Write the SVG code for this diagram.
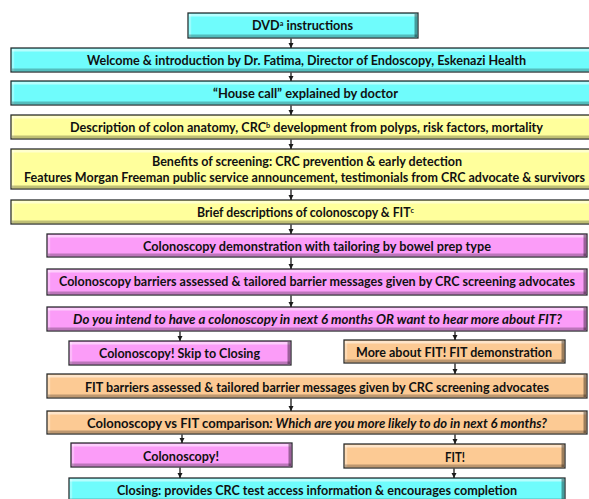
<svg xmlns="http://www.w3.org/2000/svg" width="589" height="499" viewBox="0 0 589 499">
<defs>
<style>
.box{stroke:#2b2f30;stroke-width:1.3}
.cy{fill:#6ffcfc}
.ye{fill:#ffff9c}
.pk{fill:#fb9cf8}
.or{fill:#fcca94}
.bt{stroke:#ffffff;stroke-opacity:.5;stroke-width:2.4;fill:none}
.bl{stroke:#ffffff;stroke-opacity:.3;stroke-width:2.4;fill:none}
.bb{stroke:#000000;stroke-opacity:.25;stroke-width:2.6;fill:none}
.br{stroke:#000000;stroke-opacity:.38;stroke-width:2.6;fill:none}
text{font-family:Lato,"Open Sans","Liberation Sans",sans-serif;font-weight:bold;font-size:13px;fill:#111;text-anchor:middle}
.it{font-style:italic}
.sup{font-size:7.5px}
.conn{stroke:#1a1a1a;stroke-width:1.3;fill:none;marker-end:url(#ah)}
</style>
<marker id="ah" markerUnits="userSpaceOnUse" markerWidth="6" markerHeight="6" refX="5" refY="3" orient="auto">
<path d="M0,0.5 L5,3 L0,5.5 z" fill="#1a1a1a"/>
</marker>
</defs>
<rect width="589" height="499" fill="#ffffff"/>

<g id="n1">
<rect class="box cy" x="188" y="13" width="230" height="25"/>
<path class="bt" d="M189 15.2H417"/><path class="bl" d="M190 14V37"/><path class="bb" d="M189 35.8H417"/><path class="br" d="M415.8 14V37"/>
<text x="302.5" y="30" textLength="101" lengthAdjust="spacingAndGlyphs">DVD<tspan class="sup" dy="-4">a</tspan><tspan dy="4"> instructions</tspan></text>
</g>
<g id="n2">
<rect class="box cy" x="11" y="48" width="590" height="24"/>
<path class="bt" d="M12 50.2H600"/><path class="bl" d="M13 49V71"/><path class="bb" d="M12 69.8H600"/>
<text x="306.5" y="64.5" textLength="439" lengthAdjust="spacingAndGlyphs">Welcome &amp; introduction by Dr. Fatima, Director of Endoscopy, Eskenazi Health</text>
</g>
<g id="n3">
<rect class="box cy" x="11" y="81" width="590" height="24"/>
<path class="bt" d="M12 83.2H600"/><path class="bl" d="M13 82V104"/><path class="bb" d="M12 102.8H600"/>
<text x="305.5" y="97.5" textLength="185" lengthAdjust="spacingAndGlyphs">“House call” explained by doctor</text>
</g>
<g id="n4">
<rect class="box ye" x="11" y="115" width="590" height="24"/>
<path class="bt" d="M12 117.2H600"/><path class="bl" d="M13 116V138"/><path class="bb" d="M12 136.8H600"/>
<text x="306.5" y="131.5" textLength="473" lengthAdjust="spacingAndGlyphs">Description of colon anatomy, CRC<tspan class="sup" dy="-4">b</tspan><tspan dy="4"> development from polyps, risk factors, mortality</tspan></text>
</g>
<g id="n5">
<rect class="box ye" x="11" y="149" width="590" height="40"/>
<path class="bt" d="M12 151.2H600"/><path class="bl" d="M13 150V188"/><path class="bb" d="M12 186.8H600"/>
<text x="307" y="165.5" textLength="310" lengthAdjust="spacingAndGlyphs">Benefits of screening: CRC prevention &amp; early detection</text>
<text x="304.5" y="181.5" textLength="561" lengthAdjust="spacingAndGlyphs">Features Morgan Freeman public service announcement, testimonials from CRC advocate &amp; survivors</text>
</g>
<g id="n6">
<rect class="box ye" x="11" y="200" width="590" height="24"/>
<path class="bt" d="M12 202.2H600"/><path class="bl" d="M13 201V223"/><path class="bb" d="M12 221.8H600"/>
<text x="305.5" y="216.5" textLength="217" lengthAdjust="spacingAndGlyphs">Brief descriptions of colonoscopy &amp; FIT<tspan class="sup" dy="-4">c</tspan></text>
</g>
<g id="n7">
<rect class="box pk" x="47" y="234" width="540" height="23"/>
<path class="bt" d="M48 236.2H586"/><path class="bl" d="M49 235V256"/><path class="bb" d="M48 254.8H586"/><path class="br" d="M584.8 235V256"/>
<text x="317" y="250.5" textLength="348" lengthAdjust="spacingAndGlyphs">Colonoscopy demonstration with tailoring by bowel prep type</text>
</g>
<g id="n8">
<rect class="box pk" x="47" y="269" width="540" height="26"/>
<path class="bt" d="M48 271.2H586"/><path class="bl" d="M49 270V294"/><path class="bb" d="M48 292.8H586"/><path class="br" d="M584.8 270V294"/>
<text x="317" y="286" textLength="516" lengthAdjust="spacingAndGlyphs">Colonoscopy barriers assessed &amp; tailored barrier messages given by CRC screening advocates</text>
</g>
<g id="n9">
<rect class="box pk" x="47" y="307" width="540" height="24"/>
<path class="bt" d="M48 309.2H586"/><path class="bl" d="M49 308V330"/><path class="bb" d="M48 328.8H586"/><path class="br" d="M584.8 308V330"/>
<text class="it" x="317.5" y="324" textLength="489" lengthAdjust="spacingAndGlyphs">Do you intend to have a colonoscopy in next 6 months OR want to hear more about FIT?</text>
</g>
<g id="n10">
<rect class="box pk" x="69" y="341" width="222" height="24"/>
<path class="bt" d="M70 343.2H290"/><path class="bl" d="M71 342V364"/><path class="bb" d="M70 362.8H290"/><path class="br" d="M288.8 342V364"/>
<text x="179.5" y="357.5" textLength="161" lengthAdjust="spacingAndGlyphs">Colonoscopy! Skip to Closing</text>
</g>
<g id="n11">
<rect class="box or" x="344" y="340" width="221" height="23"/>
<path class="bt" d="M345 342.2H564"/><path class="bl" d="M346 341V362"/><path class="bb" d="M345 360.8H564"/><path class="br" d="M562.8 341V362"/>
<text x="454" y="356.5" textLength="196" lengthAdjust="spacingAndGlyphs">More about FIT! FIT demonstration</text>
</g>
<g id="n12">
<rect class="box or" x="47" y="374" width="540" height="24"/>
<path class="bt" d="M48 376.2H586"/><path class="bl" d="M49 375V397"/><path class="bb" d="M48 395.8H586"/><path class="br" d="M584.8 375V397"/>
<text x="317" y="391.5" textLength="464" lengthAdjust="spacingAndGlyphs">FIT barriers assessed &amp; tailored barrier messages given by CRC screening advocates</text>
</g>
<g id="n13">
<rect class="box or" x="47" y="411" width="540" height="23"/>
<path class="bt" d="M48 413.2H586"/><path class="bl" d="M49 412V433"/><path class="bb" d="M48 431.8H586"/><path class="br" d="M584.8 412V433"/>
<text x="317" y="427.5" textLength="460" lengthAdjust="spacingAndGlyphs">Colonoscopy vs FIT comparison<tspan class="it">: Which are you more likely to do in next 6 months?</tspan></text>
</g>
<g id="n14">
<rect class="box pk" x="71" y="443" width="221" height="24"/>
<path class="bt" d="M72 445.2H291"/><path class="bl" d="M73 444V466"/><path class="bb" d="M72 464.8H291"/><path class="br" d="M289.8 444V466"/>
<text x="181" y="460.5" textLength="76" lengthAdjust="spacingAndGlyphs">Colonoscopy!</text>
</g>
<g id="n15">
<rect class="box or" x="344" y="444" width="221" height="24"/>
<path class="bt" d="M345 446.2H564"/><path class="bl" d="M346 445V467"/><path class="bb" d="M345 465.8H564"/><path class="br" d="M562.8 445V467"/>
<text x="455" y="461.5" textLength="20" lengthAdjust="spacingAndGlyphs">FIT!</text>
</g>
<g id="n16">
<rect class="box cy" x="69" y="478" width="496" height="24"/>
<path class="bt" d="M70 480.2H564"/><path class="bl" d="M71 479V501"/><path class="bb" d="M70 499.8H564"/><path class="br" d="M562.8 479V501"/>
<text x="317" y="495" textLength="400" lengthAdjust="spacingAndGlyphs">Closing: provides CRC test access information &amp; encourages completion</text>
</g>

<g id="connectors">
<path class="conn" d="M291 38.6V48"/>
<path class="conn" d="M291 72.6V81"/>
<path class="conn" d="M291 105.6V115"/>
<path class="conn" d="M291 139.6V149"/>
<path class="conn" d="M291 189.6V200"/>
<path class="conn" d="M291 224.6V234"/>
<path class="conn" d="M291 257.6V269"/>
<path class="conn" d="M291 295.6V307"/>
<path class="conn" d="M180 331.6V341"/>
<path class="conn" d="M455 331.6V340"/>
<path class="conn" d="M455 363.6V374"/>
<path class="conn" d="M291 398.6V411"/>
<path class="conn" d="M182 434.6V443"/>
<path class="conn" d="M455 434.6V444"/>
<path class="conn" d="M180 467.6V478"/>
<path class="conn" d="M454 468.6V478"/>
</g>
</svg>
